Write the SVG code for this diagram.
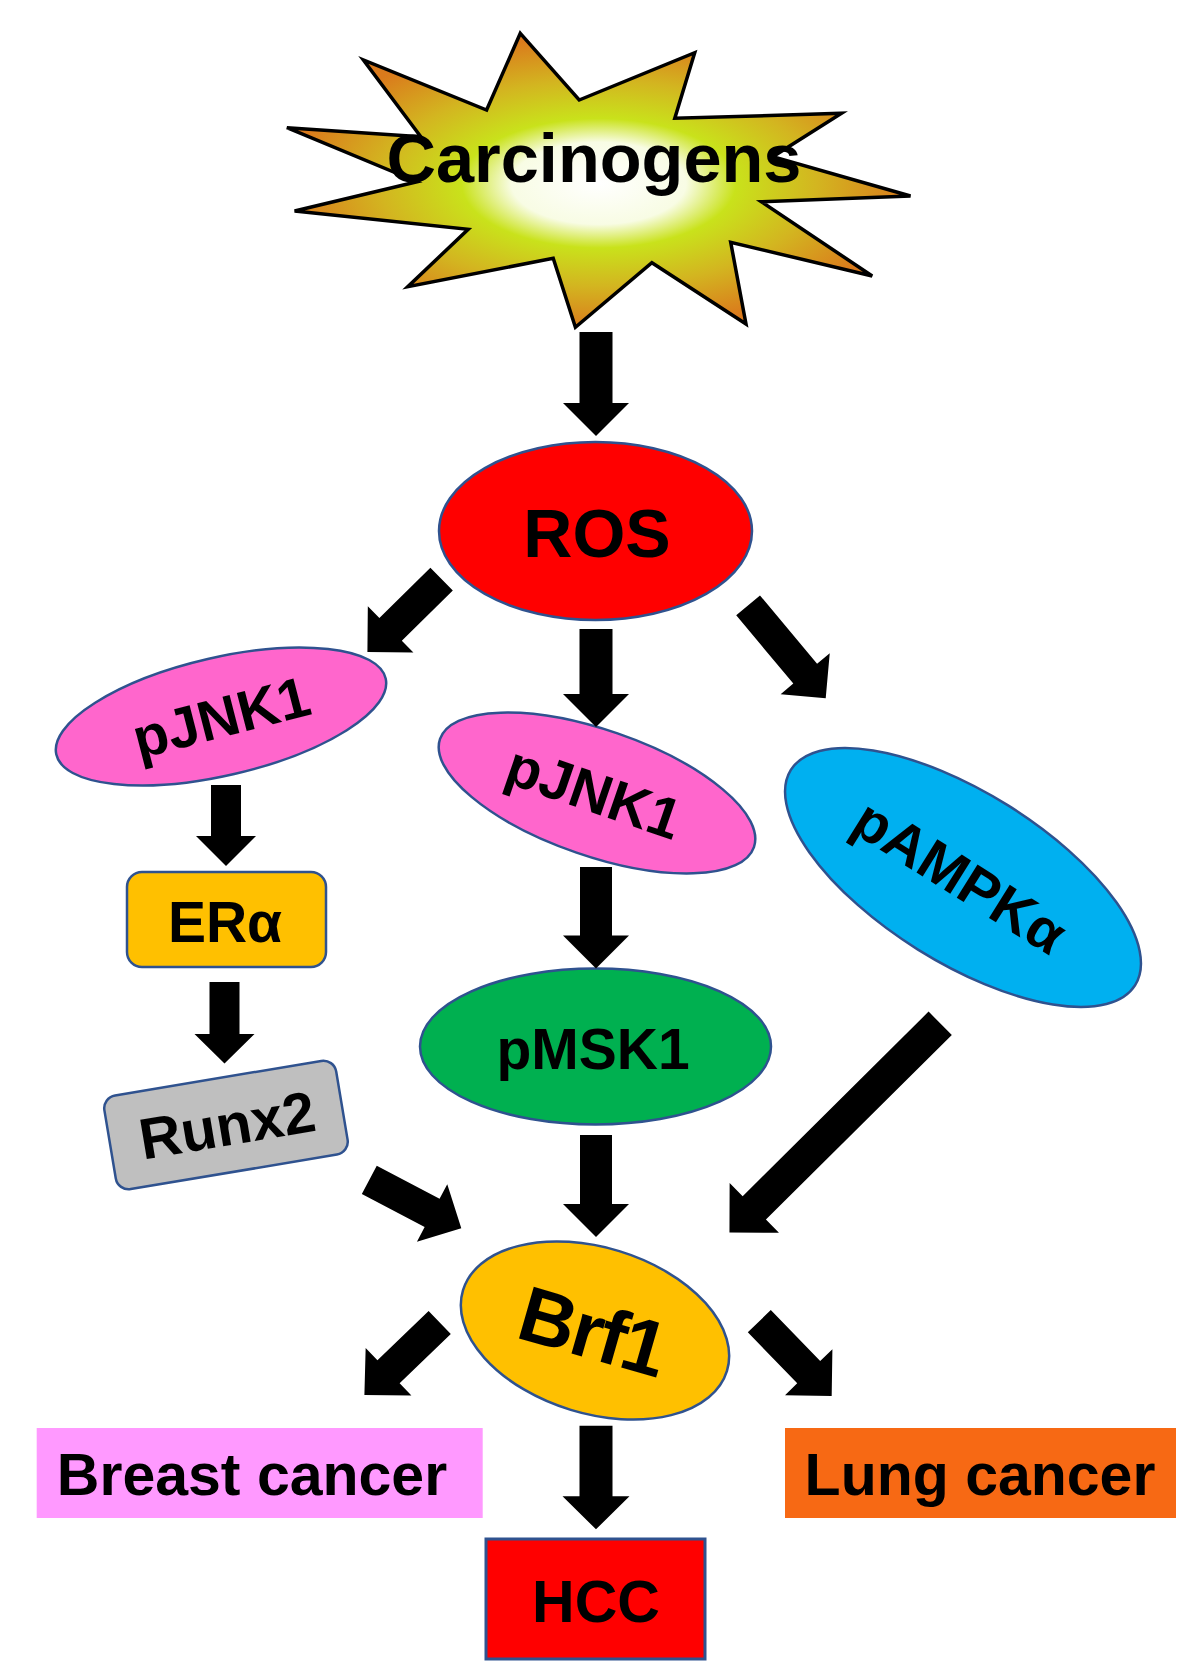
<svg xmlns="http://www.w3.org/2000/svg" width="1200" height="1679" viewBox="0 0 1200 1679">
<style>
.n{stroke:#2F528F;stroke-width:2.5}
.t{font-family:"Liberation Sans",Arial,Helvetica,sans-serif;font-weight:bold;fill:#000;text-anchor:middle}
.a{fill:#000}
</style>
<defs>
<radialGradient id="burst" cx="0.5" cy="0.51" r="0.5">
<stop offset="0" stop-color="#FFFFFF"/>
<stop offset="0.28" stop-color="#F8FCE4"/>
<stop offset="0.44" stop-color="#C9E21B"/>
<stop offset="0.7" stop-color="#D3B520"/>
<stop offset="1" stop-color="#DA7A1C"/>
</radialGradient>
</defs>
<rect width="1200" height="1679" fill="#FFFFFF"/>

<g id="carcinogens">
<polygon points="520.3,33.3 579.2,100 694.7,52.7 674.8,118.3 841.6,113.3 772.8,156.7 910.5,196 761.3,201.7 872.2,276 730.7,242.3 746,324 651.9,262.7 575.4,327.3 553.2,258.3 407.8,286.7 468.2,229.3 294.6,211 417,181.7 286.9,127.7 420.8,136.7 363.4,60 486.6,110" fill="url(#burst)" stroke="#000" stroke-width="3.5" stroke-linejoin="miter"/>
<text class="t" x="594" y="182" font-size="68.5">Carcinogens</text>
</g>

<g id="ros">
<ellipse class="n" cx="595.5" cy="531" rx="156.5" ry="89" fill="#FF0000"/>
<text class="t" x="597" y="557" font-size="68">ROS</text>
</g>

<g id="pjnk1-left" transform="rotate(-13 221 716.5)">
<ellipse class="n" cx="221" cy="716.5" rx="169" ry="59" fill="#FF66CC"/>
<text class="t" x="221" y="737" font-size="57" transform="rotate(-1.5 221 716.5)">pJNK1</text>
</g>

<g id="pjnk1-mid" transform="rotate(19 597 793)">
<ellipse class="n" cx="597" cy="793" rx="166" ry="63" fill="#FF66CC"/>
<text class="t" x="594" y="813" font-size="57">pJNK1</text>
</g>

<g id="pampk" transform="rotate(32 963 877.5)">
<ellipse class="n" cx="963" cy="877.5" rx="203" ry="85" fill="#00B0F0"/>
<text class="t" x="960" y="898" font-size="57">pAMPKα</text>
</g>

<g id="era">
<rect class="n" x="127" y="872" width="199" height="95" rx="15" fill="#FFC000"/>
<text class="t" x="225" y="942" font-size="57">ERα</text>
</g>

<g id="runx2" transform="rotate(-9.5 226 1125)">
<rect class="n" x="108.5" y="1077.5" width="235" height="95" rx="13" fill="#BFBFBF"/>
<text class="t" x="227" y="1145.5" font-size="58">Runx2</text>
</g>

<g id="pmsk1">
<ellipse class="n" cx="595.5" cy="1046.5" rx="175.5" ry="78" fill="#00B050"/>
<text class="t" x="593" y="1069" font-size="57">pMSK1</text>
</g>

<g id="brf1" transform="rotate(17 595 1330.5)">
<ellipse class="n" cx="595" cy="1330.5" rx="138" ry="83" fill="#FFC000"/>
<text class="t" x="593" y="1359" font-size="78" letter-spacing="-2" transform="rotate(-1 595 1330.5)">Brf1</text>
</g>

<g id="breast-cancer">
<rect x="36.7" y="1428" width="446" height="90" fill="#FF99FF"/>
<text class="t" x="252" y="1495" font-size="59">Breast cancer</text>
</g>

<g id="lung-cancer">
<rect x="785" y="1428" width="391" height="90" fill="#F76914"/>
<text class="t" x="980" y="1495" font-size="59">Lung cancer</text>
</g>

<g id="hcc">
<rect x="486" y="1539" width="219" height="120" fill="#FF0000" stroke="#2F528F" stroke-width="3"/>
<text class="t" x="596" y="1622" font-size="59">HCC</text>
</g>

<g id="connectors">
<path class="a" transform="translate(596,332) rotate(90)" d="M0,-16.5H71V-33L104,0L71,33V16.5H0Z"/>
<path class="a" transform="translate(441.6,579.2) rotate(135.5)" d="M0,-16H71.5V-32.5L104,0L71.5,32.5V16H0Z"/>
<path class="a" transform="translate(596,629) rotate(90)" d="M0,-16.5H65V-33L98,0L65,33V16.5H0Z"/>
<path class="a" transform="translate(748.1,605.4) rotate(50.1)" d="M0,-15.5H89V-32L121,0L89,32V15.5H0Z"/>
<path class="a" transform="translate(226,785) rotate(90)" d="M0,-15H51V-30L81,0L51,30V15H0Z"/>
<path class="a" transform="translate(224.5,982) rotate(90)" d="M0,-15H52V-30L81.5,0L52,30V15H0Z"/>
<path class="a" transform="translate(596,867) rotate(90)" d="M0,-16H68.5V-33L101.5,0L68.5,33V16H0Z"/>
<path class="a" transform="translate(596,1135) rotate(90)" d="M0,-16H69V-33L102,0L69,33V16H0Z"/>
<path class="a" transform="translate(369.3,1179.8) rotate(27.8)" d="M0,-16H71V-32.5L104,0L71,32.5V16H0Z"/>
<path class="a" transform="translate(940.2,1023.3) rotate(135.2)" d="M0,-16.5H262V-35L297,0L262,35V16.5H0Z"/>
<path class="a" transform="translate(439.7,1322.5) rotate(136.1)" d="M0,-16H71V-33L104.5,0L71,33V16H0Z"/>
<path class="a" transform="translate(759.3,1321.2) rotate(45.9)" d="M0,-16H71V-33L104,0L71,33V16H0Z"/>
<path class="a" transform="translate(596,1425.7) rotate(90)" d="M0,-16.5H70.6V-33.5L103.6,0L70.6,33.5V16.5H0Z"/>
</g>
</svg>
